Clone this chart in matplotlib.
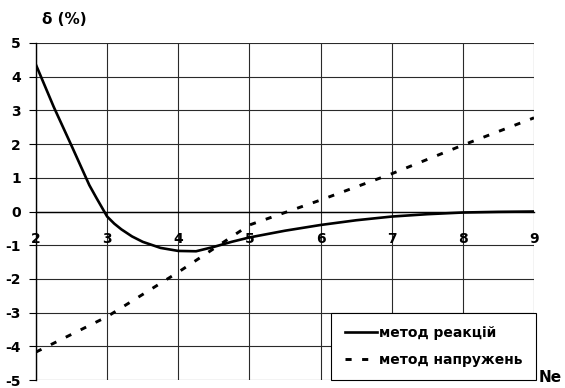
import matplotlib
matplotlib.use('Agg')
import matplotlib.pyplot as plt

plt.rcParams['font.family'] = ['DejaVu Sans']
plt.rcParams['font.weight'] = 'bold'
plt.rcParams['axes.unicode_minus'] = False

# метод реакцій
ne_react = [2.0, 2.25, 2.5, 2.75, 2.85, 3.0, 3.1, 3.2, 3.35, 3.5, 3.75, 4.0, 4.25, 4.5,
            4.75, 5.0, 5.5, 6.0, 6.5, 7.0, 7.5, 8.0, 8.5, 9.0]
delta_react = [4.35, 3.1, 1.95, 0.78, 0.4, -0.15, -0.36, -0.53, -0.74, -0.9, -1.08, -1.17,
               -1.18, -1.05, -0.9, -0.77, -0.57, -0.4, -0.26, -0.15, -0.08, -0.03, -0.01, 0.0]

# метод напружень
ne_stress = [2, 3, 4, 5, 6, 7, 8, 9]
delta_stress = [-4.17, -3.12, -1.8, -0.4, 0.34, 1.12, 1.97, 2.78]

x_ticks = [2, 3, 4, 5, 6, 7, 8, 9]
y_ticks = [-5, -4, -3, -2, -1, 0, 1, 2, 3, 4, 5]

fig = plt.figure(figsize=(5.65, 3.88), dpi=100)
ax = fig.add_axes([36 / 565, 1 - 380 / 388, 498 / 565, 337 / 388])

# grid
for xv in x_ticks:
    ax.axvline(xv, color='#2a2a2a', lw=0.8, zorder=1)
for yv in y_ticks:
    ax.axhline(yv, color='#2a2a2a', lw=0.8, zorder=1)

ax.plot(ne_react, delta_react, color='black', lw=1.9, label='метод реакцій', zorder=3)
ax.plot(ne_stress, delta_stress, color='black', lw=2.1, linestyle=(0, (2.1, 3.6)),
        label='метод напружень', zorder=3)

ax.set_xlim(2, 9)
ax.set_ylim(-5, 5)

for s in ['top', 'right']:
    ax.spines[s].set_visible(False)
ax.spines['left'].set_linewidth(1.0)
ax.spines['bottom'].set_position(('data', 0))
ax.spines['bottom'].set_linewidth(1.0)

ax.set_yticks(y_ticks)
ax.set_yticklabels([str(v) for v in y_ticks], fontsize=10, fontweight='bold')
ax.tick_params(axis='y', direction='out', length=5, width=0.8, pad=6)

ax.set_xticks(x_ticks)
ax.set_xticklabels([str(v) for v in x_ticks], fontsize=10, fontweight='bold')
ax.tick_params(axis='x', length=0, pad=15)
for lbl in ax.get_xticklabels():
    lbl.set_zorder(4)

fig.text(64 / 565, 1 - 19 / 388, 'δ (%)', fontsize=11, fontweight='bold',
         ha='center', va='center')
fig.text(539 / 565, 1 - 378 / 388, 'Ne', fontsize=11, fontweight='bold',
         ha='left', va='center')

leg = ax.legend(loc='lower right', bbox_to_anchor=(1.004, 0.0), borderaxespad=0,
                frameon=True, fancybox=False, edgecolor='black', framealpha=1,
                prop={'weight': 'bold', 'size': 10}, handlelength=2.3,
                handletextpad=0.2, labelspacing=0.9, borderpad=0.95)
leg.get_frame().set_linewidth(0.8)
leg.set_zorder(5)

plt.savefig('out.png', dpi=100)
plt.close(fig)
